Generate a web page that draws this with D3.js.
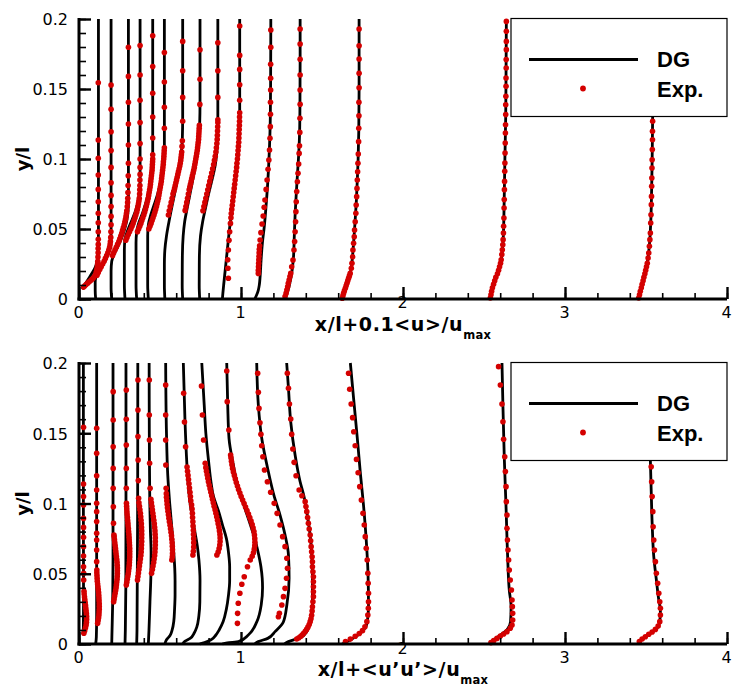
<!DOCTYPE html>
<html>
<head>
<meta charset="utf-8">
<script src="https://cdn.jsdelivr.net/npm/d3@7"></script>
<style>
  body { margin: 0; background: #fff; }
  svg { display: block; }
</style>
</head>
<body>
<svg id="chart" width="733" height="691"></svg>
<script>
// Measurement stations x/l (shared by both panels)
const stations = [0.02, 0.103, 0.202, 0.284, 0.356, 0.428, 0.53, 0.64, 0.745, 0.885, 1.085, 1.269, 1.625, 2.539, 3.455];

// Mean velocity profiles: [y/l, <u>/u_max]
const meanDG = [
  [[0.007,0],[0.01,0.15],[0.014,0.36],[0.018,0.58],[0.022,0.78],[0.026,0.9],[0.03,0.96],[0.036,0.99],[0.05,1.0],[0.2,1.0]],
  [[0,0],[0.006,-0.03],[0.012,-0.03],[0.016,0.03],[0.02,0.2],[0.025,0.45],[0.03,0.68],[0.035,0.85],[0.04,0.93],[0.05,0.95],[0.2,0.95]],
  [[0,0],[0.008,-0.04],[0.02,-0.04],[0.027,0],[0.032,0.15],[0.038,0.4],[0.044,0.62],[0.05,0.8],[0.056,0.93],[0.062,1.0],[0.07,1.03],[0.2,1.03]],
  [[0,0],[0.01,-0.04],[0.035,-0.04],[0.043,0],[0.05,0.2],[0.057,0.45],[0.064,0.68],[0.071,0.83],[0.078,0.91],[0.085,0.93],[0.2,0.93]],
  [[0,0],[0.01,-0.04],[0.04,-0.04],[0.048,0],[0.055,0.15],[0.062,0.38],[0.07,0.6],[0.078,0.77],[0.086,0.88],[0.094,0.95],[0.102,0.99],[0.2,0.99]],
  [[0,0],[0.01,-0.04],[0.045,-0.04],[0.053,0],[0.06,0.15],[0.068,0.38],[0.076,0.6],[0.085,0.78],[0.094,0.9],[0.103,0.96],[0.11,0.99],[0.2,0.99]],
  [[0,0],[0.01,-0.03],[0.025,-0.03],[0.035,0],[0.045,0.1],[0.055,0.25],[0.065,0.42],[0.075,0.6],[0.085,0.76],[0.095,0.9],[0.105,1.02],[0.115,1.08],[0.13,1.1],[0.2,1.1]],
  [[0,0],[0.01,-0.03],[0.03,-0.02],[0.045,0.03],[0.055,0.12],[0.065,0.28],[0.075,0.45],[0.085,0.62],[0.095,0.78],[0.105,0.9],[0.115,0.99],[0.125,1.05],[0.14,1.07],[0.2,1.07]],
  [[0,0],[0.01,-0.03],[0.03,-0.02],[0.045,0.05],[0.055,0.18],[0.065,0.36],[0.075,0.55],[0.085,0.76],[0.095,0.95],[0.105,1.06],[0.115,1.1],[0.13,1.12],[0.2,1.12]],
  [[0,0],[0.004,0.03],[0.01,0.08],[0.02,0.17],[0.03,0.26],[0.04,0.35],[0.05,0.44],[0.06,0.55],[0.07,0.66],[0.08,0.76],[0.09,0.86],[0.1,0.94],[0.11,1.0],[0.12,1.04],[0.135,1.07],[0.2,1.07]],
  [[0,0],[0.003,0.12],[0.0064,0.22],[0.01,0.28],[0.016,0.33],[0.028,0.39],[0.04,0.47],[0.052,0.59],[0.064,0.68],[0.083,0.8],[0.106,0.9],[0.13,0.96],[0.16,0.98],[0.2,0.99]],
  [[0,0],[0.004,0.15],[0.01,0.3],[0.02,0.46],[0.03,0.55],[0.045,0.6],[0.06,0.65],[0.075,0.72],[0.09,0.8],[0.105,0.88],[0.12,0.93],[0.14,0.95],[0.17,0.96],[0.2,0.96]],
  [[0,0],[0.005,0.12],[0.01,0.26],[0.015,0.4],[0.02,0.52],[0.03,0.63],[0.04,0.7],[0.055,0.79],[0.07,0.87],[0.085,0.93],[0.1,0.98],[0.12,1.02],[0.15,1.04],[0.2,1.04]],
  [[0,0],[0.005,0.07],[0.01,0.17],[0.015,0.32],[0.02,0.5],[0.025,0.62],[0.03,0.7],[0.04,0.78],[0.06,0.84],[0.08,0.87],[0.1,0.9],[0.13,0.95],[0.16,0.97],[0.2,0.99]],
  [[0,0],[0.005,0.1],[0.01,0.2],[0.015,0.31],[0.02,0.42],[0.025,0.51],[0.03,0.58],[0.04,0.67],[0.06,0.76],[0.08,0.8],[0.1,0.83],[0.13,0.86],[0.16,0.89],[0.2,0.92]]
];

const meanExp = [
  [[0.0085,0.08],[0.0095,0.16],[0.0105,0.25],[0.0115,0.35],[0.0125,0.45],[0.0135,0.55],[0.0145,0.64],[0.0155,0.72],[0.017,0.8],[0.019,0.86],[0.021,0.9],[0.023,0.93],[0.025,0.95],[0.027,0.96],[0.03,0.97],[0.033,0.98],[0.036,0.98],[0.039,0.99],[0.0426,0.99],[0.048,0.99],[0.0545,0.99],[0.0612,0.99],[0.0695,0.99],[0.0783,0.99],[0.0886,0.99],[0.1005,0.99],[0.1136,0.99],[0.1545,0.99]],
  [[0.017,0.08],[0.019,0.16],[0.021,0.25],[0.023,0.34],[0.025,0.43],[0.027,0.52],[0.029,0.6],[0.031,0.68],[0.033,0.75],[0.035,0.81],[0.037,0.86],[0.039,0.89],[0.041,0.91],[0.044,0.93],[0.048,0.94],[0.053,0.95],[0.059,0.95],[0.066,0.95],[0.074,0.95],[0.083,0.95],[0.094,0.95],[0.106,0.95],[0.1195,0.95],[0.1355,0.95],[0.1529,0.95]],
  [[0.031,0.05],[0.033,0.12],[0.035,0.2],[0.037,0.28],[0.039,0.36],[0.041,0.44],[0.043,0.5],[0.045,0.56],[0.047,0.62],[0.049,0.67],[0.051,0.72],[0.053,0.77],[0.055,0.81],[0.057,0.85],[0.059,0.88],[0.061,0.91],[0.063,0.93],[0.066,0.96],[0.069,0.98],[0.072,0.99],[0.076,1.0],[0.081,1.01],[0.088,1.02],[0.097,1.03],[0.11,1.03],[0.125,1.03],[0.1405,1.03],[0.159,1.03],[0.1798,1.03]],
  [[0.042,0.05],[0.044,0.12],[0.046,0.2],[0.048,0.28],[0.05,0.36],[0.052,0.43],[0.054,0.5],[0.056,0.56],[0.058,0.62],[0.06,0.67],[0.062,0.72],[0.064,0.76],[0.066,0.8],[0.068,0.83],[0.07,0.86],[0.072,0.88],[0.075,0.9],[0.078,0.91],[0.081,0.92],[0.085,0.92],[0.089,0.93],[0.094,0.93],[0.1,0.93],[0.111,0.93],[0.126,0.93],[0.142,0.93],[0.16,0.93],[0.181,0.93]],
  [[0.048,0.05],[0.05,0.12],[0.052,0.19],[0.054,0.26],[0.056,0.32],[0.058,0.38],[0.06,0.44],[0.062,0.49],[0.064,0.54],[0.066,0.59],[0.068,0.63],[0.07,0.67],[0.072,0.71],[0.074,0.74],[0.076,0.77],[0.078,0.8],[0.08,0.83],[0.082,0.85],[0.084,0.87],[0.086,0.89],[0.088,0.91],[0.09,0.93],[0.092,0.95],[0.094,0.96],[0.096,0.97],[0.098,0.98],[0.1,0.99],[0.103,0.99],[0.115,0.99],[0.13,0.99],[0.147,0.99],[0.166,0.99],[0.188,0.99]],
  [[0.05,0.03],[0.052,0.1],[0.054,0.17],[0.056,0.23],[0.058,0.29],[0.06,0.35],[0.062,0.4],[0.064,0.45],[0.066,0.5],[0.068,0.54],[0.07,0.58],[0.072,0.62],[0.074,0.65],[0.076,0.68],[0.078,0.71],[0.08,0.74],[0.082,0.77],[0.084,0.8],[0.086,0.82],[0.088,0.84],[0.09,0.86],[0.092,0.88],[0.094,0.9],[0.096,0.92],[0.098,0.93],[0.1,0.95],[0.102,0.96],[0.104,0.97],[0.106,0.98],[0.108,0.99],[0.122,0.99],[0.137,0.99],[0.155,0.99],[0.176,0.99]],
  [[0.06,0.22],[0.063,0.27],[0.066,0.33],[0.069,0.39],[0.072,0.45],[0.075,0.5],[0.077,0.55],[0.079,0.6],[0.081,0.64],[0.083,0.68],[0.085,0.72],[0.087,0.76],[0.089,0.8],[0.091,0.84],[0.093,0.88],[0.095,0.92],[0.097,0.95],[0.099,0.98],[0.101,1.0],[0.103,1.02],[0.105,1.04],[0.109,1.06],[0.113,1.08],[0.127,1.1],[0.144,1.1],[0.163,1.1],[0.184,1.1]],
  [[0.0633,0.15],[0.066,0.2],[0.069,0.25],[0.072,0.3],[0.075,0.35],[0.078,0.4],[0.08,0.44],[0.082,0.48],[0.084,0.52],[0.086,0.56],[0.088,0.6],[0.09,0.64],[0.092,0.68],[0.094,0.72],[0.096,0.75],[0.098,0.78],[0.1,0.81],[0.102,0.84],[0.104,0.87],[0.106,0.9],[0.108,0.92],[0.11,0.94],[0.112,0.96],[0.114,0.98],[0.116,0.99],[0.118,1.0],[0.12,1.01],[0.122,1.02],[0.124,1.03],[0.139,1.06],[0.157,1.07],[0.178,1.07]],
  [[0.063,0.2],[0.066,0.26],[0.069,0.32],[0.072,0.38],[0.075,0.44],[0.078,0.5],[0.081,0.56],[0.084,0.62],[0.087,0.68],[0.09,0.74],[0.093,0.8],[0.096,0.86],[0.099,0.91],[0.102,0.96],[0.105,1.0],[0.108,1.03],[0.111,1.06],[0.114,1.08],[0.117,1.09],[0.12,1.1],[0.123,1.11],[0.126,1.12],[0.128,1.12],[0.144,1.12],[0.163,1.12],[0.183,1.12]],
  [[0.0148,0.37],[0.022,0.34],[0.028,0.33],[0.035,0.37],[0.042,0.41],[0.048,0.45],[0.054,0.5],[0.058,0.53],[0.061,0.55],[0.064,0.58],[0.067,0.61],[0.07,0.64],[0.073,0.67],[0.076,0.7],[0.079,0.73],[0.082,0.76],[0.085,0.79],[0.088,0.82],[0.091,0.85],[0.094,0.88],[0.097,0.9],[0.1,0.93],[0.103,0.95],[0.106,0.97],[0.109,0.99],[0.112,1.01],[0.115,1.02],[0.118,1.03],[0.121,1.04],[0.124,1.05],[0.127,1.06],[0.13,1.06],[0.133,1.07],[0.142,1.07],[0.153,1.07],[0.164,1.07],[0.174,1.07],[0.195,1.07]],
  [[0.0183,0.22],[0.0205,0.22],[0.023,0.23],[0.0255,0.24],[0.028,0.25],[0.0305,0.26],[0.033,0.27],[0.0355,0.28],[0.038,0.3],[0.0421,0.33],[0.0474,0.38],[0.0536,0.45],[0.0593,0.52],[0.0655,0.58],[0.0707,0.63],[0.0783,0.7],[0.085,0.76],[0.0926,0.82],[0.0993,0.87],[0.1064,0.91],[0.1148,0.94],[0.1231,0.96],[0.1319,0.97],[0.1405,0.97],[0.1493,0.98],[0.1576,0.98],[0.1676,0.98],[0.1798,0.99],[0.1921,0.99]],
  [[0.0017,0.03],[0.004,0.09],[0.0064,0.14],[0.0088,0.19],[0.0112,0.23],[0.0135,0.28],[0.016,0.33],[0.0183,0.38],[0.023,0.44],[0.0279,0.52],[0.035,0.58],[0.041,0.62],[0.048,0.65],[0.0552,0.68],[0.0624,0.7],[0.0695,0.72],[0.0767,0.75],[0.0838,0.79],[0.0898,0.83],[0.0964,0.87],[0.104,0.9],[0.1095,0.92],[0.119,0.94],[0.1291,0.95],[0.1391,0.96],[0.1493,0.96],[0.16,0.96],[0.1712,0.96],[0.1821,0.96],[0.1929,0.96]],
  [[0.0005,0],[0.0022,0.04],[0.004,0.08],[0.0058,0.13],[0.0076,0.19],[0.0094,0.24],[0.0112,0.29],[0.013,0.34],[0.0148,0.39],[0.0165,0.44],[0.0183,0.49],[0.0219,0.56],[0.0255,0.6],[0.0302,0.64],[0.035,0.66],[0.0398,0.7],[0.0445,0.74],[0.0493,0.76],[0.0552,0.8],[0.0612,0.84],[0.0671,0.86],[0.0731,0.89],[0.079,0.91],[0.085,0.93],[0.0909,0.95],[0.0969,0.97],[0.1036,0.99],[0.1124,1.01],[0.1219,1.02],[0.1309,1.03],[0.1405,1.03],[0.1509,1.04],[0.1612,1.04],[0.1714,1.04],[0.1809,1.04],[0.1929,1.04]],
  [[0.0007,0],[0.003,0.04],[0.0055,0.08],[0.008,0.13],[0.0105,0.2],[0.013,0.27],[0.0155,0.34],[0.018,0.44],[0.0205,0.51],[0.023,0.57],[0.0255,0.63],[0.028,0.67],[0.0317,0.71],[0.0352,0.74],[0.0388,0.77],[0.0424,0.79],[0.0471,0.81],[0.0519,0.82],[0.0579,0.84],[0.065,0.85],[0.071,0.86],[0.0781,0.87],[0.084,0.88],[0.0912,0.89],[0.0971,0.9],[0.1043,0.91],[0.1114,0.92],[0.1186,0.93],[0.1245,0.94],[0.1317,0.95],[0.1388,0.95],[0.1448,0.96],[0.1519,0.97],[0.1579,0.97],[0.165,0.98],[0.171,0.98],[0.1781,0.99],[0.184,0.99],[0.1912,0.99],[0.1983,0.99]],
  [[0.0007,0],[0.003,0.05],[0.0055,0.1],[0.008,0.16],[0.0105,0.21],[0.013,0.27],[0.0155,0.32],[0.018,0.38],[0.0205,0.43],[0.023,0.48],[0.0255,0.53],[0.0293,0.58],[0.0329,0.62],[0.0376,0.66],[0.0424,0.69],[0.0471,0.72],[0.0543,0.74],[0.0602,0.76],[0.0674,0.78],[0.0733,0.79],[0.0805,0.8],[0.0864,0.81],[0.0936,0.82],[0.0995,0.83],[0.1067,0.84],[0.1138,0.85],[0.1198,0.85],[0.1269,0.86],[0.134,0.87],[0.141,0.88],[0.148,0.88],[0.155,0.89],[0.162,0.9],[0.169,0.9],[0.176,0.91],[0.183,0.91],[0.19,0.92],[0.197,0.92]]
];

// Reynolds normal stress profiles: [y/l, <u'u'>/u_max]
const stressDG = [
  [[0.007,0.004],[0.012,0.007],[0.03,0.008],[0.1,0.007],[0.2,0.007]],
  [[0,0],[0.005,0.004],[0.02,0.006],[0.1,0.006],[0.2,0.006]],
  [[0,0],[0.01,0.002],[0.03,0.006],[0.06,0.008],[0.1,0.008],[0.2,0.008]],
  [[0,0],[0.01,0.002],[0.04,0.005],[0.1,0.006],[0.2,0.006]],
  [[0,0],[0.01,0.002],[0.05,0.004],[0.1,0.006],[0.2,0.007]],
  [[0,0],[0.01,0.004],[0.03,0.01],[0.05,0.016],[0.065,0.017],[0.08,0.013],[0.1,0.009],[0.15,0.006],[0.2,0.005]],
  [[0,0],[0.003,0.01],[0.006,0.032],[0.01,0.045],[0.016,0.055],[0.025,0.06],[0.035,0.063],[0.045,0.063],[0.054,0.061],[0.065,0.055],[0.08,0.045],[0.1,0.03],[0.12,0.018],[0.15,0.01],[0.2,0.005]],
  [[0,0],[0.002,0.015],[0.004,0.046],[0.008,0.072],[0.012,0.087],[0.02,0.1],[0.03,0.106],[0.045,0.107],[0.06,0.1],[0.07,0.09],[0.08,0.075],[0.09,0.06],[0.1,0.046],[0.115,0.033],[0.13,0.025],[0.16,0.014],[0.2,0.004]],
  [[0,0],[0.001,0.03],[0.003,0.07],[0.0064,0.1],[0.01,0.12],[0.016,0.145],[0.025,0.165],[0.035,0.178],[0.045,0.185],[0.055,0.185],[0.065,0.178],[0.075,0.165],[0.085,0.14],[0.095,0.115],[0.105,0.085],[0.115,0.07],[0.13,0.055],[0.15,0.038],[0.17,0.028],[0.2,0.013]],
  [[0,0],[0.0008,0.03],[0.0017,0.1],[0.0064,0.16],[0.0159,0.213],[0.028,0.24],[0.04,0.248],[0.0468,0.246],[0.055,0.238],[0.0657,0.22],[0.075,0.2],[0.0823,0.18],[0.09,0.158],[0.098,0.135],[0.106,0.115],[0.115,0.09],[0.1274,0.068],[0.1464,0.041],[0.17,0.033],[0.2,0.027]],
  [[0,0],[0.0017,0.022],[0.004,0.08],[0.0088,0.125],[0.0159,0.177],[0.0278,0.198],[0.0468,0.212],[0.0633,0.208],[0.0776,0.187],[0.0918,0.156],[0.106,0.118],[0.1226,0.084],[0.1464,0.043],[0.1701,0.022],[0.2,0.012]],
  [[0,0],[0.0017,0.024],[0.0045,0.096],[0.0088,0.137],[0.0159,0.158],[0.0278,0.172],[0.0468,0.172],[0.0705,0.164],[0.0942,0.137],[0.106,0.118],[0.1155,0.096],[0.1345,0.065],[0.158,0.038],[0.182,0.024],[0.2,0.013]],
  [[0,0],[0.0017,0.029],[0.0076,0.111],[0.0147,0.153],[0.0266,0.162],[0.0503,0.159],[0.074,0.148],[0.0977,0.132],[0.1226,0.111],[0.1464,0.093],[0.1749,0.07],[0.2,0.05]],
  [[0,0],[0.0028,0.02],[0.0064,0.062],[0.01,0.103],[0.016,0.125],[0.0266,0.128],[0.0384,0.117],[0.0622,0.107],[0.0977,0.097],[0.1333,0.086],[0.1689,0.078],[0.2,0.072]],
  [[0,0],[0.0017,0.004],[0.004,0.031],[0.0076,0.072],[0.0112,0.113],[0.016,0.13],[0.0242,0.134],[0.0313,0.124],[0.0456,0.109],[0.0622,0.093],[0.0859,0.083],[0.1096,0.077],[0.131,0.072],[0.16,0.068],[0.2,0.065]]
];

const stressExp = [
  [[0.0076,0.01],[0.0095,0.015],[0.0115,0.02],[0.0135,0.024],[0.0155,0.026],[0.0175,0.027],[0.0195,0.027],[0.0215,0.026],[0.0235,0.024],[0.0255,0.022],[0.0275,0.02],[0.0295,0.018],[0.0315,0.016],[0.0335,0.014],[0.0355,0.012],[0.0375,0.011],[0.0456,0.009],[0.0503,0.009],[0.055,0.008],[0.0626,0.008],[0.0693,0.008],[0.0759,0.008],[0.083,0.008],[0.0894,0.008],[0.0989,0.008],[0.1049,0.008],[0.1139,0.008],[0.1542,0.008]],
  [[0.0147,0.012],[0.0167,0.015],[0.0187,0.018],[0.0207,0.02],[0.0227,0.021],[0.0247,0.022],[0.0267,0.022],[0.0287,0.022],[0.0307,0.021],[0.0327,0.02],[0.0347,0.019],[0.0367,0.018],[0.0387,0.016],[0.0407,0.014],[0.0427,0.012],[0.0447,0.01],[0.0467,0.009],[0.0487,0.008],[0.0507,0.007],[0.0527,0.007],[0.0586,0.006],[0.0669,0.006],[0.074,0.006],[0.0788,0.006],[0.0871,0.006],[0.0942,0.006],[0.1001,0.006],[0.1096,0.006],[0.1198,0.006],[0.1357,0.006],[0.1535,0.006]],
  [[0.0301,0.012],[0.0321,0.015],[0.0341,0.018],[0.0361,0.021],[0.0381,0.024],[0.0401,0.027],[0.0421,0.029],[0.0441,0.031],[0.0461,0.033],[0.0481,0.034],[0.0501,0.035],[0.0521,0.035],[0.0541,0.035],[0.0561,0.034],[0.0581,0.033],[0.0601,0.031],[0.0621,0.029],[0.0641,0.027],[0.0661,0.025],[0.0681,0.023],[0.0701,0.021],[0.0721,0.019],[0.0741,0.017],[0.0761,0.015],[0.0776,0.014],[0.0859,0.011],[0.0977,0.01],[0.1108,0.009],[0.125,0.009],[0.1404,0.009],[0.1594,0.009],[0.1796,0.009]],
  [[0.042,0.008],[0.044,0.011],[0.046,0.014],[0.048,0.017],[0.05,0.02],[0.052,0.022],[0.054,0.024],[0.056,0.026],[0.058,0.027],[0.06,0.028],[0.062,0.029],[0.064,0.029],[0.066,0.029],[0.068,0.029],[0.07,0.028],[0.072,0.027],[0.074,0.026],[0.076,0.025],[0.078,0.024],[0.08,0.022],[0.082,0.021],[0.084,0.019],[0.086,0.018],[0.088,0.016],[0.09,0.015],[0.092,0.013],[0.094,0.012],[0.096,0.011],[0.098,0.01],[0.1001,0.009],[0.1108,0.008],[0.125,0.008],[0.1416,0.008],[0.1599,0.008],[0.1808,0.008]],
  [[0.0456,0.005],[0.048,0.008],[0.0505,0.011],[0.053,0.014],[0.0555,0.017],[0.058,0.02],[0.0605,0.023],[0.063,0.026],[0.0655,0.028],[0.068,0.029],[0.0705,0.03],[0.073,0.031],[0.0755,0.031],[0.078,0.031],[0.0805,0.031],[0.083,0.03],[0.0855,0.029],[0.088,0.027],[0.0905,0.025],[0.093,0.023],[0.0955,0.02],[0.098,0.017],[0.1005,0.014],[0.1037,0.012],[0.1163,0.01],[0.131,0.009],[0.1476,0.008],[0.1665,0.008],[0.1879,0.008]],
  [[0.0503,0.02],[0.053,0.025],[0.0555,0.029],[0.058,0.033],[0.0605,0.036],[0.063,0.039],[0.0655,0.041],[0.068,0.042],[0.0705,0.043],[0.073,0.043],[0.0755,0.043],[0.078,0.042],[0.0805,0.041],[0.083,0.039],[0.0855,0.037],[0.088,0.034],[0.0905,0.031],[0.093,0.028],[0.0955,0.025],[0.098,0.022],[0.1005,0.019],[0.103,0.016],[0.1108,0.011],[0.1286,0.008],[0.1452,0.007],[0.163,0.006],[0.1879,0.006]],
  [[0.0598,0.043],[0.062,0.046],[0.0645,0.047],[0.067,0.047],[0.0695,0.046],[0.072,0.045],[0.0745,0.043],[0.077,0.041],[0.0795,0.038],[0.082,0.035],[0.0845,0.032],[0.087,0.028],[0.0895,0.025],[0.092,0.022],[0.0945,0.019],[0.097,0.016],[0.0995,0.014],[0.102,0.012],[0.1045,0.01],[0.107,0.009],[0.1108,0.008],[0.1274,0.006],[0.1452,0.005],[0.163,0.005],[0.1843,0.005]],
  [[0.0633,0.063],[0.066,0.066],[0.069,0.068],[0.072,0.068],[0.075,0.068],[0.078,0.067],[0.081,0.066],[0.084,0.064],[0.087,0.063],[0.09,0.061],[0.093,0.06],[0.096,0.058],[0.099,0.055],[0.102,0.05],[0.105,0.048],[0.108,0.045],[0.111,0.042],[0.114,0.039],[0.117,0.036],[0.12,0.033],[0.123,0.03],[0.126,0.027],[0.1404,0.018],[0.158,0.011],[0.1784,0.006]],
  [[0.0633,0.106],[0.0655,0.114],[0.068,0.12],[0.0705,0.124],[0.073,0.126],[0.0755,0.126],[0.078,0.125],[0.0805,0.122],[0.083,0.119],[0.0855,0.114],[0.088,0.11],[0.0905,0.105],[0.093,0.1],[0.0955,0.095],[0.098,0.089],[0.1005,0.084],[0.103,0.079],[0.1055,0.074],[0.108,0.069],[0.1105,0.064],[0.113,0.059],[0.1155,0.054],[0.118,0.05],[0.1205,0.046],[0.123,0.042],[0.1255,0.038],[0.1286,0.034],[0.1452,0.024],[0.163,0.017],[0.1836,0.011]],
  [[0.0147,0.093],[0.0218,0.094],[0.029,0.098],[0.0361,0.108],[0.0425,0.12],[0.0479,0.135],[0.055,0.155],[0.0598,0.172],[0.0625,0.184],[0.065,0.192],[0.0675,0.197],[0.07,0.2],[0.0725,0.201],[0.075,0.2],[0.0775,0.198],[0.08,0.195],[0.0825,0.19],[0.085,0.184],[0.0875,0.177],[0.09,0.169],[0.0925,0.161],[0.095,0.152],[0.0975,0.143],[0.1,0.134],[0.1025,0.125],[0.105,0.116],[0.1075,0.108],[0.11,0.1],[0.1125,0.093],[0.115,0.086],[0.1175,0.08],[0.12,0.074],[0.1225,0.068],[0.125,0.063],[0.1275,0.059],[0.13,0.056],[0.1325,0.053],[0.1345,0.051],[0.1523,0.04],[0.1725,0.03],[0.1943,0.027]],
  [[0.0194,0.146],[0.0218,0.152],[0.0278,0.167],[0.0337,0.177],[0.0396,0.187],[0.0468,0.196],[0.0539,0.202],[0.061,0.198],[0.0693,0.187],[0.0764,0.172],[0.0847,0.156],[0.093,0.138],[0.1001,0.12],[0.108,0.098],[0.1155,0.078],[0.1238,0.06],[0.1333,0.05],[0.1411,0.043],[0.1492,0.038],[0.1575,0.032],[0.1677,0.026],[0.1791,0.022],[0.1927,0.018]],
  [[0.0036,0.075],[0.0045,0.088],[0.0055,0.1],[0.0066,0.11],[0.0076,0.118],[0.009,0.128],[0.0104,0.136],[0.012,0.144],[0.0138,0.152],[0.0159,0.158],[0.018,0.163],[0.0205,0.167],[0.0235,0.17],[0.0265,0.172],[0.0301,0.175],[0.0337,0.178],[0.0372,0.178],[0.0408,0.178],[0.0443,0.178],[0.0479,0.178],[0.0514,0.175],[0.055,0.172],[0.0585,0.172],[0.0621,0.17],[0.0657,0.167],[0.0693,0.164],[0.0735,0.161],[0.0776,0.158],[0.0818,0.152],[0.0859,0.147],[0.09,0.142],[0.0942,0.137],[0.0978,0.132],[0.1013,0.127],[0.1055,0.107],[0.1096,0.09],[0.1198,0.071],[0.1293,0.059],[0.1388,0.051],[0.1492,0.044],[0.1601,0.038],[0.1708,0.03],[0.182,0.024],[0.1927,0.017]],
  [[0.0017,0.02],[0.0035,0.05],[0.0055,0.08],[0.0075,0.105],[0.0095,0.125],[0.0123,0.14],[0.0159,0.152],[0.0206,0.158],[0.0254,0.161],[0.0301,0.162],[0.0361,0.162],[0.0432,0.16],[0.0503,0.158],[0.0598,0.154],[0.0681,0.148],[0.0764,0.142],[0.0847,0.136],[0.093,0.128],[0.1025,0.118],[0.112,0.108],[0.1219,0.098],[0.1314,0.088],[0.1411,0.08],[0.1511,0.071],[0.1611,0.064],[0.1708,0.055],[0.1813,0.046],[0.1927,0.039]],
  [[0.001,0.004],[0.0024,0.021],[0.004,0.041],[0.0057,0.062],[0.0071,0.082],[0.0088,0.103],[0.0112,0.123],[0.0135,0.134],[0.0171,0.138],[0.0218,0.138],[0.0266,0.136],[0.0313,0.134],[0.0384,0.13],[0.0456,0.123],[0.0527,0.117],[0.0598,0.113],[0.0669,0.109],[0.074,0.106],[0.0823,0.103],[0.0918,0.103],[0.1013,0.099],[0.112,0.097],[0.1227,0.093],[0.1333,0.089],[0.1457,0.082],[0.1582,0.078],[0.1708,0.072],[0.1843,0.062],[0.1974,0.051]],
  [[0.0017,0.004],[0.0036,0.021],[0.0052,0.041],[0.0069,0.062],[0.0085,0.083],[0.0104,0.103],[0.0128,0.12],[0.0159,0.13],[0.0206,0.134],[0.0254,0.134],[0.0301,0.13],[0.0361,0.124],[0.0432,0.117],[0.0503,0.109],[0.0586,0.103],[0.0669,0.097],[0.074,0.093],[0.0835,0.089],[0.0942,0.087],[0.1049,0.083],[0.1155,0.08],[0.1262,0.077],[0.137,0.075],[0.148,0.072],[0.159,0.07],[0.17,0.068],[0.181,0.066],[0.192,0.064]]
];

// Axis ticks and labels
const xTicks = [0, 1, 2, 3, 4];
const yTicks = [0, 0.05, 0.1, 0.15, 0.2];
const yTickLabels = ["0", "0.05", "0.1", "0.15", "0.2"];
const legendLabels = ["DG", "Exp."];

const RED = "#d40000";
const svg = d3.select("#chart");
const x = d3.scaleLinear().domain([0, 4]).range([79, 727]);

const panels = [
  { top: 19, bottom: 299, dg: meanDG, exp: meanExp, scale: 0.1,
    title: "x/l+0.1<u>/u", sub: "max", titleY: 331, label2Shift: -10 },
  { top: 363, bottom: 644, dg: stressDG, exp: stressExp, scale: 1,
    title: "x/l+<u\u2019u\u2019>/u", sub: "max", titleY: 676, label2Shift: -9 }
];

panels.forEach(p => {
  const y = d3.scaleLinear().domain([0, 0.2]).range([p.bottom, p.top]);
  const g = svg.append("g");
  const px = (i, d) => x(stations[i] + p.scale * d[1]);

  // DG profiles
  p.dg.forEach((prof, i) => {
    const line = d3.line()
      .x(d => px(i, d))
      .y(d => y(d[0]))
      .curve(d3.curveMonotoneY);
    g.append("path")
      .attr("d", line(prof))
      .attr("fill", "none")
      .attr("stroke", "#000")
      .attr("stroke-width", 2.8)
      .attr("stroke-linejoin", "round");
  });

  // Experimental points
  p.exp.forEach((prof, i) => {
    g.append("g").selectAll("circle")
      .data(prof)
      .join("circle")
      .attr("cx", d => px(i, d))
      .attr("cy", d => y(d[0]))
      .attr("r", 2.8)
      .attr("fill", RED);
  });

  // Axes: minor ticks, major ticks, labels
  const xAxisG = svg.append("g").attr("transform", `translate(0,${p.bottom})`);
  xAxisG.append("g").call(d3.axisBottom(x).ticks(20).tickSize(-6).tickFormat(""))
    .call(s => s.select(".domain").remove())
    .call(s => s.selectAll("line").attr("stroke-width", 1.6));
  xAxisG.append("g").call(d3.axisBottom(x).tickValues(xTicks).tickSize(-12).tickFormat(""))
    .call(s => s.select(".domain").remove())
    .call(s => s.selectAll("line").attr("stroke-width", 2.4));
  xAxisG.append("g").call(d3.axisBottom(x).tickValues(xTicks).tickSize(0).tickPadding(8).tickFormat(d3.format("d")))
    .call(s => s.select(".domain").remove())
    .call(s => s.selectAll("text")
      .attr("font-family", "'DejaVu Sans', sans-serif")
      .attr("font-size", 16)
      .attr("fill", "#000")
      .attr("x", -1)
      .attr("y", d => d === 2 ? 8 + p.label2Shift : 8));

  const yAxisG = svg.append("g").attr("transform", "translate(79,0)");
  yAxisG.append("g").call(d3.axisLeft(y).ticks(20).tickSize(-7).tickFormat(""))
    .call(s => s.select(".domain").remove())
    .call(s => s.selectAll("line").attr("stroke-width", 1.6));
  yAxisG.append("g").call(d3.axisLeft(y).tickValues(yTicks).tickSize(-12).tickFormat(""))
    .call(s => s.select(".domain").remove())
    .call(s => s.selectAll("line").attr("stroke-width", 2.4));
  yAxisG.append("g").call(d3.axisLeft(y).tickValues(yTicks).tickSize(0).tickPadding(11)
      .tickFormat((d, i) => yTickLabels[i]))
    .call(s => s.select(".domain").remove())
    .call(s => s.selectAll("text")
      .attr("font-family", "'DejaVu Sans', sans-serif")
      .attr("font-size", 16)
      .attr("fill", "#000")
      .attr("dy", "0.36em"));

  // Axis lines
  svg.append("line").attr("x1", 79).attr("x2", 79).attr("y1", p.top - 1).attr("y2", p.bottom + 1.5)
    .attr("stroke", "#000").attr("stroke-width", 3);
  svg.append("line").attr("x1", 77.5).attr("x2", 727).attr("y1", p.bottom).attr("y2", p.bottom)
    .attr("stroke", "#000").attr("stroke-width", 3);

  // Axis titles
  const t = svg.append("text")
    .attr("x", (x(0) + x(4)) / 2)
    .attr("y", p.titleY)
    .attr("text-anchor", "middle")
    .attr("font-family", "'DejaVu Sans', sans-serif")
    .attr("font-weight", "bold")
    .attr("font-size", 19)
    .attr("letter-spacing", 0.6)
    .attr("fill", "#000");
  t.append("tspan").text(p.title);
  t.append("tspan").attr("font-size", 11.5).attr("letter-spacing", 0.3).attr("dy", 8).text(p.sub);

  svg.append("text")
    .attr("transform", `translate(29,${(p.top + p.bottom) / 2}) rotate(-90)`)
    .attr("text-anchor", "middle")
    .attr("font-family", "'DejaVu Sans', sans-serif")
    .attr("font-weight", "bold")
    .attr("font-size", 18)
    .attr("fill", "#000")
    .text("y/l");

  // Legend
  const lg = svg.append("g").attr("transform", `translate(511,${p.top - 0.5})`);
  lg.append("rect").attr("width", 216).attr("height", 98)
    .attr("fill", "#fff").attr("stroke", "#000").attr("stroke-width", 1.2);
  lg.append("line").attr("x1", 18).attr("x2", 127).attr("y1", 41).attr("y2", 41)
    .attr("stroke", "#000").attr("stroke-width", 2.8);
  lg.append("circle").attr("cx", 72).attr("cy", 70).attr("r", 2.9).attr("fill", RED);
  lg.selectAll("text.lab").data(legendLabels).join("text")
    .attr("class", "lab")
    .attr("x", 146)
    .attr("y", (d, i) => 48 + i * 30)
    .attr("font-family", "'Liberation Sans', Arial, sans-serif")
    .attr("font-weight", "bold")
    .attr("font-size", 22)
    .attr("fill", "#000")
    .text(d => d);
});
</script>
</body>
</html>
